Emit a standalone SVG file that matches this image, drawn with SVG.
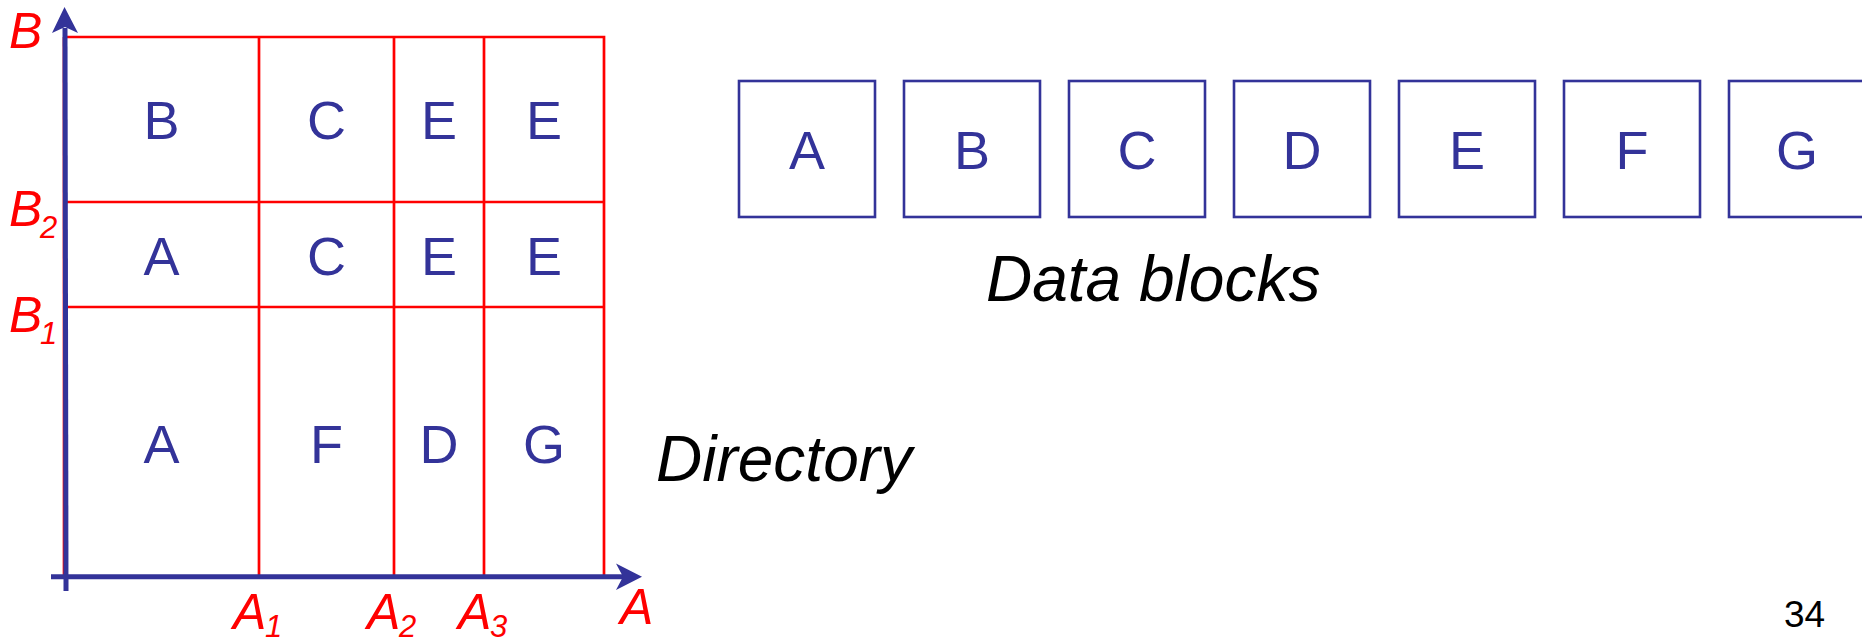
<svg xmlns="http://www.w3.org/2000/svg" width="1862" height="643" viewBox="0 0 1862 643">
  <style>
    .grid { stroke: #FF0000; stroke-width: 2.7; fill: none; }
    .axis { stroke: #333399; stroke-width: 5; fill: none; }
    .head { fill: #333399; }
    .cell { font-family: "Liberation Sans", Arial, sans-serif; font-size: 54px; fill: #333399; text-anchor: middle; }
    .lbl { font-family: "Liberation Sans", Arial, sans-serif; font-style: italic; font-size: 50px; fill: #FF0000; }
    .sub { font-size: 31px; }
    .block { fill: #FFFFFF; stroke: #333399; stroke-width: 2.6; }
    .caption { font-family: "Liberation Sans", Arial, sans-serif; font-style: italic; font-size: 64px; fill: #000000; }
    .page { font-family: "Liberation Sans", Arial, sans-serif; font-size: 37px; fill: #000000; }
  </style>
  <rect width="1862" height="643" fill="#FFFFFF"/>

  <!-- Directory grid partitions -->
  <g id="directory-grid">
    <path class="grid" d="M64 37 H604 V577 M64 37 V577 M64 202 H604 M64 307 H604 M259 37 V577 M394 37 V577 M484 37 V577"/>
  </g>

  <!-- Axes -->
  <g id="connectors">
    <path class="axis" d="M65 28 L66 591"/>
    <path class="head" d="M64.5 7 L78 33 L65 27 L52 33 Z"/>
    <path class="axis" d="M51 576.7 L626 576.7"/>
    <path class="head" d="M642 576.7 L616 590 L623 576.7 L616 563.5 Z"/>
  </g>

  <!-- Axis scale labels -->
  <g id="axis-labels" class="lbl">
    <text x="9" y="48">B</text>
    <text x="9" y="226">B<tspan class="sub" x="40" y="238">2</tspan></text>
    <text x="9" y="332">B<tspan class="sub" x="40" y="344">1</tspan></text>
    <text x="233" y="629">A<tspan class="sub" x="265" y="637">1</tspan></text>
    <text x="367" y="629">A<tspan class="sub" x="399" y="637">2</tspan></text>
    <text x="458" y="629">A<tspan class="sub" x="490" y="637">3</tspan></text>
    <text x="620" y="624">A</text>
  </g>

  <!-- Directory cells -->
  <g id="cell-r1c1"><text class="cell" x="161.5" y="139">B</text></g>
  <g id="cell-r1c2"><text class="cell" x="326.5" y="139">C</text></g>
  <g id="cell-r1c3"><text class="cell" x="439" y="139">E</text></g>
  <g id="cell-r1c4"><text class="cell" x="544" y="139">E</text></g>
  <g id="cell-r2c1"><text class="cell" x="161.5" y="275">A</text></g>
  <g id="cell-r2c2"><text class="cell" x="326.5" y="275">C</text></g>
  <g id="cell-r2c3"><text class="cell" x="439" y="275">E</text></g>
  <g id="cell-r2c4"><text class="cell" x="544" y="275">E</text></g>
  <g id="cell-r3c1"><text class="cell" x="161.5" y="463">A</text></g>
  <g id="cell-r3c2"><text class="cell" x="326.5" y="463">F</text></g>
  <g id="cell-r3c3"><text class="cell" x="439" y="463">D</text></g>
  <g id="cell-r3c4"><text class="cell" x="544" y="463">G</text></g>

  <!-- Data blocks -->
  <g id="block-A"><rect class="block" x="739" y="81" width="136" height="136"/><text class="cell" x="807" y="169">A</text></g>
  <g id="block-B"><rect class="block" x="904" y="81" width="136" height="136"/><text class="cell" x="972" y="169">B</text></g>
  <g id="block-C"><rect class="block" x="1069" y="81" width="136" height="136"/><text class="cell" x="1137" y="169">C</text></g>
  <g id="block-D"><rect class="block" x="1234" y="81" width="136" height="136"/><text class="cell" x="1302" y="169">D</text></g>
  <g id="block-E"><rect class="block" x="1399" y="81" width="136" height="136"/><text class="cell" x="1467" y="169">E</text></g>
  <g id="block-F"><rect class="block" x="1564" y="81" width="136" height="136"/><text class="cell" x="1632" y="169">F</text></g>
  <g id="block-G"><rect class="block" x="1729" y="81" width="136" height="136"/><text class="cell" x="1797" y="169">G</text></g>

  <!-- Captions -->
  <text class="caption" x="986" y="301">Data blocks</text>
  <text class="caption" x="656" y="481">Directory</text>
  <text class="page" x="1784" y="627">34</text>
</svg>
